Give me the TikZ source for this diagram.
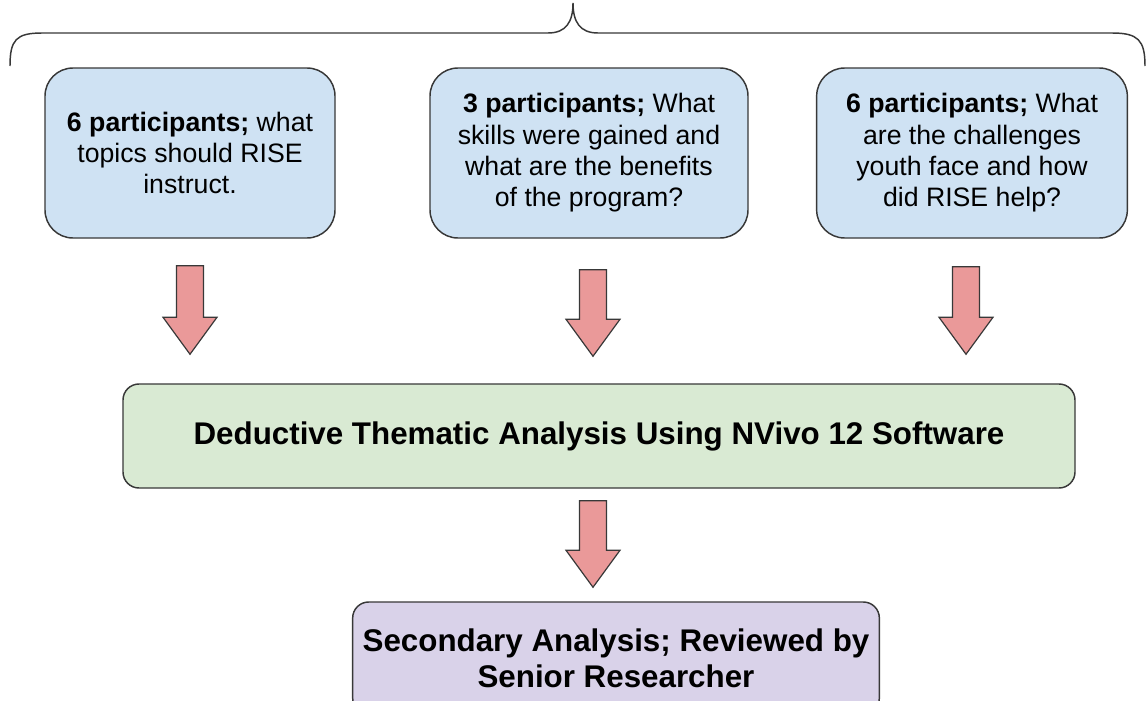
\documentclass[tikz,border=0pt]{standalone}
\usepackage{fontspec}
\setmainfont{Liberation Sans}
\usepackage{tikz}
\usetikzlibrary{arrows.meta, positioning, calc}
\usepackage{xcolor}
\definecolor{boxblue}{HTML}{CFE2F3}
\definecolor{boxgreen}{HTML}{D9EAD3}
\definecolor{boxpurple}{HTML}{D9D2E9}
\definecolor{arrowred}{HTML}{EA9999}
\definecolor{edgegray}{HTML}{383838}

\tikzset{
  qbox/.style={draw=edgegray, line width=1.1pt, rounded corners=21pt, fill=boxblue,
    align=center, font=\fontsize{20}{23.5}\selectfont, inner sep=0pt,
    minimum width=#1, minimum height=127.5pt},
  stagebox/.style={draw=edgegray, line width=1.1pt, rounded corners=12pt,
    align=center, font=\bfseries\fontsize{23.5}{27}\selectfont, inner sep=0pt}
}

% block arrow from tail coordinate to tip coordinate
\newcommand{\blockarrow}[2]{%
  \draw[edgegray, line width=0.9pt, fill=arrowred, line join=miter]
    ($(#1)+(-13.5,0)$) -- ($(#2)+(-13.5,-37)$) -- ($(#2)+(-27,-37)$) -- (#2)
    -- ($(#2)+(27,-37)$) -- ($(#2)+(13.5,-37)$) -- ($(#1)+(13.5,0)$) -- cycle;}

\begin{document}
\begin{tikzpicture}[x=0.75pt, y=-0.75pt]
    \useasboundingbox (0,0) rectangle (1146,700);

    % Brace
    \draw[edgegray, line width=1.1pt]
      (10,66) .. controls (10,40) and (16,33) .. (42,33) -- (548,33)
      .. controls (566,33) and (573,22) .. (573,3)
      .. controls (573,22) and (580,33) .. (598,33) -- (1112,33)
      .. controls (1138,33) and (1145,40) .. (1145,66);

    % Questions
    \node[qbox=217.5pt] (q1) at (190,153)
      {\textbf{6 participants;} what\\topics should RISE\\instruct.};
    \node[qbox=238.5pt] (q2) at (589,153)
      {\textbf{3 participants;} What\\skills were gained and\\what are the benefits\\of the program?};
    \node[qbox=233pt] (q3) at (972,153)
      {\textbf{6 participants;} What\\are the challenges\\youth face and how\\did RISE help?};

    % Analysis steps
    \node[stagebox, fill=boxgreen, minimum width=714pt, minimum height=78pt] (analysis)
      at (599,436) {Deductive Thematic Analysis Using NVivo 12 Software};
    \node[stagebox, fill=boxpurple, minimum width=395pt, minimum height=84pt] (review)
      at (616,658) {Secondary Analysis; Reviewed by\\Senior Researcher};

    % Arrows
    \coordinate (a1s) at ($(q1.south)+(0,27)$);
    \coordinate (a1e) at ($(q1.south |- analysis.north)+(0,-29)$);
    \coordinate (a2s) at ($(q2.south)+(4,31)$);
    \coordinate (a2e) at ($(q2.south |- analysis.north)+(4,-27)$);
    \coordinate (a3s) at ($(q3.south)+(-6,28)$);
    \coordinate (a3e) at ($(q3.south |- analysis.north)+(-6,-29)$);
    \coordinate (a4s) at ($(analysis.south)+(-6,12)$);
    \coordinate (a4e) at ($(analysis.south |- review.north)+(-6,-14)$);
    \blockarrow{a1s}{a1e}
    \blockarrow{a2s}{a2e}
    \blockarrow{a3s}{a3e}
    \blockarrow{a4s}{a4e}
\end{tikzpicture}
\end{document}
